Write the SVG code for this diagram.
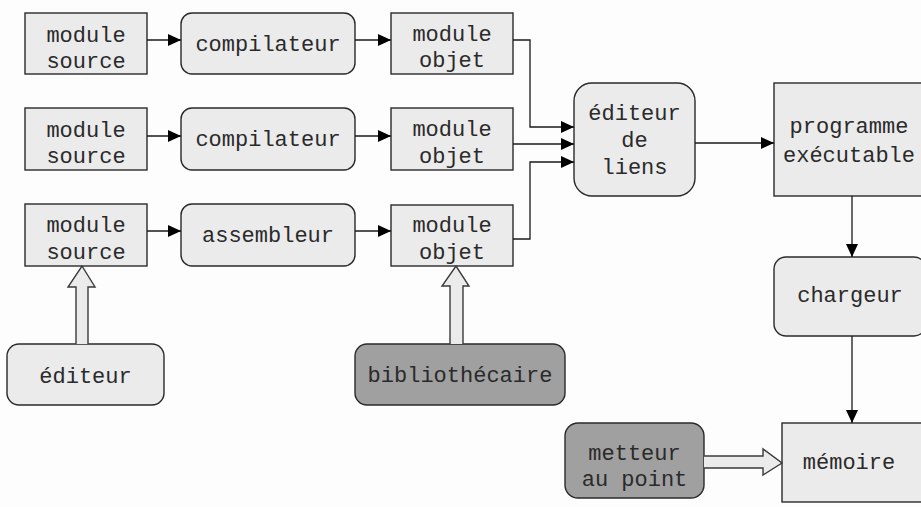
<svg xmlns="http://www.w3.org/2000/svg" width="921" height="507" viewBox="0 0 921 507">
<defs>
<style>
.n{fill:#ebebeb;stroke:#2a2a2a;stroke-width:1.4}
.d{fill:#a0a0a0;stroke:#2a2a2a;stroke-width:1.4}
.t{font-family:"Liberation Mono","Courier New",monospace;font-size:22px;fill:#2a2a2a;text-anchor:middle}
.c{fill:none;stroke:#1a1a1a;stroke-width:1.3}
.f{fill:#ebebeb;stroke:#3a3a3a;stroke-width:1.4}
</style>
<marker id="a" viewBox="0 0 13 12" refX="13" refY="6" markerWidth="13" markerHeight="12" markerUnits="userSpaceOnUse" orient="auto">
<path d="M0,0 L13,6 L0,12 Z" fill="#000"/>
</marker>
</defs>
<rect width="921" height="507" fill="#fdfdfd"/>

<g id="ms1"><rect class="n" x="25" y="13" width="122" height="61"/><text class="t" x="86" y="42">module</text><text class="t" x="86" y="68">source</text></g>
<g id="ms2"><rect class="n" x="25" y="108" width="122" height="62"/><text class="t" x="86" y="137">module</text><text class="t" x="86" y="163">source</text></g>
<g id="ms3"><rect class="n" x="25" y="204" width="122" height="62"/><text class="t" x="86" y="232">module</text><text class="t" x="86" y="259">source</text></g>

<g id="comp1"><rect class="n" x="181" y="13" width="174" height="61" rx="11"/><text class="t" x="268" y="51">compilateur</text></g>
<g id="comp2"><rect class="n" x="181" y="108" width="174" height="62" rx="11"/><text class="t" x="268" y="146">compilateur</text></g>
<g id="asm"><rect class="n" x="181" y="204" width="174" height="62" rx="11"/><text class="t" x="268" y="242">assembleur</text></g>

<g id="mo1"><rect class="n" x="391" y="13" width="122" height="61"/><text class="t" x="452" y="41">module</text><text class="t" x="452" y="67">objet</text></g>
<g id="mo2"><rect class="n" x="391" y="108" width="122" height="62"/><text class="t" x="452" y="136">module</text><text class="t" x="452" y="163">objet</text></g>
<g id="mo3"><rect class="n" x="391" y="205" width="122" height="61"/><text class="t" x="452" y="232">module</text><text class="t" x="452" y="259">objet</text></g>

<g id="edl"><rect class="n" x="574" y="83" width="121" height="113" rx="18"/><text class="t" x="634.5" y="120">éditeur</text><text class="t" x="634.5" y="147">de</text><text class="t" x="634.5" y="174">liens</text></g>
<g id="prog"><rect class="n" x="774" y="83" width="152" height="113"/><text class="t" x="849" y="133">programme</text><text class="t" x="849" y="162">exécutable</text></g>
<g id="charg"><rect class="n" x="774" y="257" width="152" height="79" rx="12"/><text class="t" x="850" y="302">chargeur</text></g>
<g id="mem"><rect class="n" x="782" y="423" width="144" height="79"/><text class="t" x="849" y="469">mémoire</text></g>

<g id="edit"><rect class="n" x="7" y="344" width="157" height="61" rx="12"/><text class="t" x="85.5" y="383">éditeur</text></g>
<g id="biblio"><rect class="d" x="355" y="344" width="210" height="61" rx="12"/><text class="t" x="460" y="382">bibliothécaire</text></g>
<g id="mapp"><rect class="d" x="565" y="423" width="139" height="75" rx="13"/><text class="t" x="634.5" y="460">metteur</text><text class="t" x="634.5" y="486">au point</text></g>

<g id="connectors">
<line class="c" x1="147" y1="40" x2="181" y2="40" marker-end="url(#a)"/>
<line class="c" x1="147" y1="136" x2="181" y2="136" marker-end="url(#a)"/>
<line class="c" x1="147" y1="231" x2="181" y2="231" marker-end="url(#a)"/>
<line class="c" x1="355" y1="40" x2="391" y2="40" marker-end="url(#a)"/>
<line class="c" x1="355" y1="136" x2="391" y2="136" marker-end="url(#a)"/>
<line class="c" x1="355" y1="231" x2="391" y2="231" marker-end="url(#a)"/>
<polyline class="c" points="513,40 530,40 530,127 574,127" marker-end="url(#a)"/>
<line class="c" x1="513" y1="144" x2="574" y2="144" marker-end="url(#a)"/>
<polyline class="c" points="513,239 530,239 530,162 574,162" marker-end="url(#a)"/>
<line class="c" x1="695" y1="143" x2="774" y2="143" marker-end="url(#a)"/>
<line class="c" x1="852" y1="196" x2="852" y2="257" marker-end="url(#a)"/>
<line class="c" x1="852" y1="336" x2="852" y2="423" marker-end="url(#a)"/>
<path class="f" d="M76,344 L76,287 L68,287 L82,266 L95,287 L88,287 L88,344"/>
<path class="f" d="M450,344 L450,286 L442,286 L456,266 L469,286 L463,286 L463,344"/>
<path class="f" d="M704,456 L763,456 L763,449 L782,463 L763,475 L763,468 L704,468"/>
</g>
</svg>
